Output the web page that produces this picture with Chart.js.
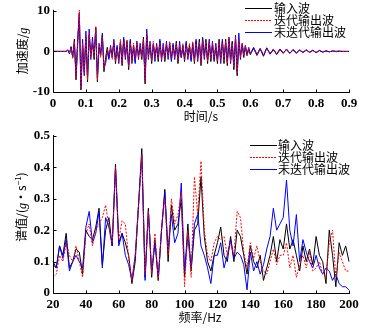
<!DOCTYPE html>
<html>
<head>
<meta charset="utf-8">
<script src="https://cdn.jsdelivr.net/npm/chart.js@4"></script>
<style>
  body { margin: 0; background: #fff; }
  #wrap { position: relative; width: 380px; height: 328px; overflow: hidden; }
  canvas { position: absolute; left: 0; top: 0; }
  .t { position: absolute; font-family: "Noto Sans CJK SC", sans-serif; font-size: 12px; color: #000; white-space: nowrap; line-height: 12px; }
  .rot { transform: translate(-50%, -50%) rotate(-90deg); }
  .ctr { transform: translate(-50%, -50%); }
  .lg { position: absolute; width: 27px; height: 1px; }
  .lg.k { background: #000; }
  .lg.r { background: repeating-linear-gradient(to right, #f00 0 2px, transparent 2px 3px); }
  .lg.b { background: #00f; }
  i { font-family: "Liberation Serif", serif; }
</style>
</head>
<body>
<div id="wrap">
  <canvas id="timeChart" width="380" height="328"></canvas>
  <canvas id="specChart" width="380" height="328"></canvas>

  <div class="t rot" style="left:22px; top:51px;">加速度/<i>g</i></div>
  <div class="t ctr" style="left:201px; top:116px;">时间/s</div>
  <div class="t rot" style="left:20px; top:207px;">谱值/(<i>g</i>·s<sup style="font-size:8px">−1</sup>)</div>
  <div class="t ctr" style="left:200px; top:317px;">频率/Hz</div>

  <!-- legend top -->
  <div class="lg k" style="left:245px; top:8px;"></div>
  <div class="t" style="left:274px; top:2px;">输入波</div>
  <div class="lg r" style="left:245px; top:20px;"></div>
  <div class="t" style="left:274px; top:14px;">迭代输出波</div>
  <div class="lg b" style="left:245px; top:32px;"></div>
  <div class="t" style="left:274px; top:26px;">未迭代输出波</div>

  <!-- legend bottom -->
  <div class="lg k" style="left:250px; top:145px;"></div>
  <div class="t" style="left:278px; top:139px;">输入波</div>
  <div class="lg r" style="left:250px; top:157px;"></div>
  <div class="t" style="left:278px; top:151px;">迭代输出波</div>
  <div class="lg b" style="left:250px; top:169px;"></div>
  <div class="t" style="left:278px; top:163px;">未迭代输出波</div>
</div>
<script>
// 时程 (s)
const time = [0,
  0.040,0.045,0.050,0.055,0.060,0.065,0.070,0.075,0.080,0.085,0.090,0.095,0.100,0.105,0.110,0.115,0.120,0.125,0.130,0.135,
  0.140,0.145,0.150,0.155,0.160,0.165,0.170,0.175,0.180,0.185,0.190,0.195,0.200,0.205,0.210,0.215,0.220,0.225,0.230,0.235,
  0.240,0.245,0.250,0.255,0.260,0.265,0.270,0.275,0.280,0.285,0.290,0.295,0.300,0.305,0.310,0.315,0.320,0.325,0.330,0.335,
  0.340,0.345,0.350,0.355,0.360,0.365,0.370,0.375,0.380,0.385,0.390,0.395,0.400,0.405,0.410,0.415,0.420,0.425,0.430,0.435,
  0.440,0.445,0.450,0.455,0.460,0.465,0.470,0.475,0.480,0.485,0.490,0.495,0.500,0.505,0.510,0.515,0.520,0.525,0.530,0.535,
  0.540,0.545,0.550,0.555,0.560,0.565,0.570,0.575,0.580,0.585,0.590,0.595,0.600,
  0.61,0.62,0.63,0.64,0.65,0.66,0.67,0.68,0.69,0.70,0.71,0.72,0.73,0.74,0.75,0.76,0.77,0.78,0.79,0.80,
  0.81,0.82,0.83,0.84,0.85,0.86,0.87,0.88,0.89,0.90];

// 加速度 (g)
const accInput = [0,
  0,0.3,-0.5,1,-1.5,3,-7,2,9.5,-9.5,1.5,-5,3.5,-7.5,4,-1,2,-2,6,-7.5,
  1,-1,4,-5,-1.5,1,-1.5,0.5,-1,2,-3,1,-2,2.5,-3.5,3,-1,2.5,-4.5,2.5,
  -2,1.5,-2.5,2,-1,1,-2,3.5,-8,4,-1,1.5,-3,2,-1,1,-2.5,2.5,-1.5,1,
  -2.5,1.5,-1,2,-2,1.5,-1,2.5,-3,1,-1.5,1.5,-2.5,2,-1,1.5,-2,2,-3,2.5,
  -1.5,3,-3.5,3,-1,3,-3,2,-2.5,1.5,-2,1,-3,3,-2,2.5,-3,3,-3.5,3,
  -2,2.5,-4.5,3,-6,2,-1,1.5,-1.5,1,-1,0.5,-0.8,
  0.8,-1,0.6,-1.2,0.8,-0.6,0.5,-0.8,0.4,-0.5,0.6,-0.4,0.3,-0.5,0.4,-0.3,0.3,-0.2,0.3,-0.3,
  0.2,-0.2,0.1,-0.1,0.1,0,0,0,0,0];
const accIter = [0,
  0,0.2,-0.4,0.8,-1.8,2.5,-6.5,1.5,10.2,-9,2,-5.5,4,-7,4.5,-1.5,2.5,-1.5,6.2,-7,
  1.5,-1.5,3.5,-4.5,-2.5,0.5,-1,1,-2,2.5,-2.5,0.5,-2.5,3,-3,2.5,-1.5,3,-4,2,
  -2.5,2,-2,2.5,-1.5,1.5,-1.5,3,-7.5,4.5,-1.5,2,-2.5,2.5,-1.5,1.5,-2,2,-2,1.5,
  -2,2,-1.5,2.5,-1.5,1,-1.5,2,-2.5,1.5,-1,2,-2,1.5,-1.5,2,-1.5,2.5,-2.5,2,
  -2,2.5,-3,2.5,-1.5,2.5,-2.5,2.5,-2,2,-1.5,1.5,-2.5,2.5,-2.5,2,-2.5,2.5,-3,3.5,
  -2.5,2,-4,3.5,-5.5,3,-1.5,2,-1,1.5,-1.2,0.8,-0.5,
  0.6,-0.8,0.8,-0.9,0.6,-0.5,0.6,-0.6,0.5,-0.4,0.5,-0.5,0.4,-0.4,0.3,-0.4,0.4,-0.3,0.2,-0.2,
  0.3,-0.1,0.2,-0.1,0.1,-0.1,0,0,0,0];
const accNoIter = [0,
  0,0.4,-0.6,1.2,-1.2,2,-6,3,9,-8.5,3,-6,5,-6.5,5.5,-2,3.5,-1,5.5,-6.5,
  2,-0.5,4.5,-4,-3,0,-2,1.5,-1.5,3,-2,1.5,-3,2,-2.5,3.5,-2,2,-3.5,3,
  -3,1,-3,2.5,-2,2,-1,2.5,-7,5.5,-2,2.5,-2,1.5,-2.5,2,-1.5,3,-2.5,2,
  -1.5,2.5,-2,1.5,-2.5,2,-2,1.5,-2,2.5,-1.5,1,-1.5,2.5,-2,1,-2.5,1.5,-2,3,
  -2.5,2,-2.5,3.5,-2,2,-2,3,-1.5,2.5,-2.5,2,-2,2,-3,3,-2,2,-2.5,3.5,
  -3,2,-3.5,4,-5,4.5,-2,2,-0.5,1.5,-0.8,1,-0.6,
  1,-0.7,0.7,-1,0.9,-0.7,0.4,-0.6,0.6,-0.3,0.4,-0.5,0.5,-0.3,0.3,-0.2,0.4,-0.2,0.2,-0.3,
  0.2,-0.1,0.1,-0.1,0.1,0,0.1,0,0,0];

// 频率 (Hz)
const freq = [20,22,24,26,28,30,32,34,36,38,40,42,44,46,48,50,52,54,56,58,60,62,64,66,68,70,72,74,76,78,
  80,82,84,86,88,90,92,94,96,98,100,102,104,106,108,110,112,114,116,118,120,122,124,126,128,130,132,134,136,138,
  140,142,144,146,148,150,152,154,156,158,160,162,164,166,168,170,172,174,176,178,180,182,184,186,188,190,192,194,196,198,200];

// 谱值
const specInput = [0.10,0.08,0.15,0.12,0.19,0.08,0.10,0.14,0.13,0.06,0.20,0.18,0.17,0.21,0.27,0.09,0.20,0.24,0.15,0.41,
  0.16,0.19,0.16,0.12,0.03,0.10,0.28,0.46,0.05,0.27,0.05,0.17,0.04,0.20,0.33,0.10,0.28,0.20,0.22,0.30,
  0.05,0.22,0.07,0.20,0.22,0.37,0.18,0.10,0.07,0.12,0.16,0.21,0.12,0.10,0.18,0.10,0.20,0.18,0.12,0.06,
  0.15,0.10,0.08,0.12,0.04,0.08,0.12,0.18,0.10,0.17,0.14,0.22,0.14,0.17,0.12,0.07,0.15,0.10,0.14,0.09,
  0.18,0.12,0.10,0.03,0.20,0.12,0.02,0.16,0.12,0.15,0.10];
const specIter = [0.05,0.06,0.12,0.10,0.16,0.12,0.10,0.15,0.10,0.05,0.19,0.22,0.15,0.20,0.22,0.24,0.28,0.21,0.16,0.40,
  0.17,0.23,0.22,0.11,0.04,0.12,0.27,0.44,0.06,0.26,0.06,0.19,0.04,0.21,0.30,0.12,0.30,0.22,0.25,0.32,
  0.02,0.20,0.05,0.37,0.25,0.42,0.20,0.12,0.10,0.16,0.18,0.17,0.18,0.12,0.16,0.12,0.26,0.24,0.13,0.08,
  0.16,0.11,0.15,0.10,0.07,0.06,0.10,0.14,0.09,0.12,0.12,0.16,0.08,0.12,0.05,0.09,0.12,0.08,0.13,0.07,
  0.08,0.10,0.06,0.05,0.16,0.20,0.05,0.13,0.10,0.07,0.07];
const specNoIter = [0.09,0.08,0.15,0.11,0.17,0.07,0.10,0.12,0.10,0.08,0.21,0.26,0.16,0.19,0.26,0.08,0.24,0.21,0.15,0.40,
  0.15,0.19,0.12,0.09,0.04,0.12,0.28,0.44,0.04,0.26,0.07,0.16,0.05,0.20,0.32,0.14,0.25,0.16,0.19,0.35,
  0.07,0.18,0.08,0.22,0.25,0.15,0.12,0.08,0.03,0.12,0.12,0.16,0.08,0.12,0.17,0.11,0.13,0.12,0.09,0.01,
  0.13,0.07,0.10,0.06,0.09,0.14,0.18,0.27,0.20,0.22,0.24,0.36,0.20,0.15,0.25,0.10,0.17,0.13,0.10,0.08,
  0.12,0.08,0.06,0.08,0.07,0.04,0.06,0.03,0.02,0.02,0.01];

const tickFont = { family: 'Liberation Serif', size: 13, weight: 'bold' };

// 坐标轴和向内的刻度线
const axisLines = {
  id: 'axisLines',
  afterDraw(chart) {
    const { ctx, chartArea: a, scales } = chart;
    ctx.save();
    ctx.strokeStyle = '#000';
    ctx.lineWidth = 1;
    ctx.beginPath();
    const L = Math.round(a.left) + 0.5, B = Math.round(a.bottom) + 0.5;
    ctx.moveTo(L, a.top - 1);
    ctx.lineTo(L, B);
    ctx.lineTo(a.right + 1, B);
    scales.x.ticks.forEach((t) => {
      const px = Math.round(scales.x.getPixelForValue(t.value)) + 0.5;
      ctx.moveTo(px, B);
      ctx.lineTo(px, B - 3);
    });
    scales.y.ticks.forEach((t) => {
      const py = Math.round(scales.y.getPixelForValue(t.value)) + 0.5;
      ctx.moveTo(L, py);
      ctx.lineTo(L + 3, py);
    });
    ctx.stroke();
    ctx.restore();
  }
};

function pts(xs, ys) {
  return xs.map((x, i) => ({ x: x, y: ys[i] }));
}

function makeChart(el, xs, sets, xOpt, yOpt, pad) {
  return new Chart(el, {
    type: 'line',
    data: {
      // 红线在最上面, 蓝线其次, 黑线最下
      datasets: [
        { label: '迭代输出波', data: pts(xs, sets[1]), borderColor: '#ff0000', borderDash: [2, 1.5] },
        { label: '未迭代输出波', data: pts(xs, sets[2]), borderColor: '#0000ff' },
        { label: '输入波', data: pts(xs, sets[0]), borderColor: '#000000' }
      ].map((d) => Object.assign(d, { borderWidth: 1, pointRadius: 0, tension: 0, fill: false, clip: 4 }))
    },
    options: {
      responsive: false,
      animation: false,
      events: [],
      layout: { padding: pad },
      plugins: { legend: { display: false }, tooltip: { enabled: false } },
      scales: {
        x: Object.assign({
          type: 'linear',
          grid: { display: false, drawTicks: false },
          border: { display: false },
          afterFit: (s) => { s.height = 24; }
        }, xOpt),
        y: Object.assign({
          grid: { display: false, drawTicks: false },
          border: { display: false },
          afterFit: (s) => { s.width = 53; }
        }, yOpt)
      }
    },
    plugins: [axisLines]
  });
}

makeChart(document.getElementById('timeChart'), time, [accInput, accIter, accNoIter],
  { min: 0, max: 0.9, ticks: { font: tickFont, color: '#000', padding: 4, maxRotation: 0, autoSkip: false, stepSize: 0.1,
      callback: (v) => (v === 0 ? '0' : v.toFixed(1)) } },
  { min: -10, max: 10, ticks: { font: tickFont, color: '#000', padding: 3, stepSize: 10 } },
  { left: 0, right: 31, top: 9, bottom: 212 });

makeChart(document.getElementById('specChart'), freq, [specInput, specIter, specNoIter],
  { min: 20, max: 200, ticks: { font: tickFont, color: '#000', padding: 4, maxRotation: 0, autoSkip: false, stepSize: 20 } },
  { min: 0, max: 0.5, ticks: { font: tickFont, color: '#000', padding: 3, stepSize: 0.1,
      callback: (v) => (v === 0 ? '0' : v.toFixed(1)) } },
  { left: 0, right: 31, top: 136, bottom: 11 });
</script>
</body>
</html>
